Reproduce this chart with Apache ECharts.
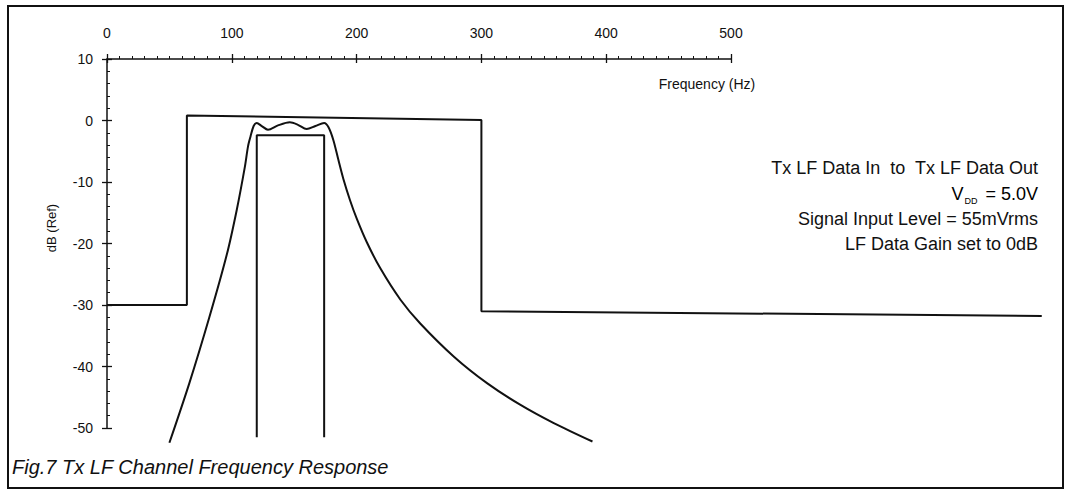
<!DOCTYPE html>
<html>
<head>
<meta charset="utf-8">
<script src="https://cdn.jsdelivr.net/npm/echarts@6/dist/echarts.min.js"></script>
<style>
html, body { margin: 0; padding: 0; background: #ffffff; }
#chart { width: 1069px; height: 491px; }
</style>
</head>
<body>
<div id="chart"></div>
<script>
// tick labels
var xTicks = [0, 100, 200, 300, 400, 500];
var yTicks = [10, 0, -10, -20, -30, -40, -50];

// upper mask (Hz / dB), its right tail runs past the 500 Hz end of the axis
var maskFreq = [0, 64, 64, 300, 300, 749];
var maskDb = [-30, -30, 0.8, 0.1, -31, -31.8];

// lower mask
var innerFreq = [120, 120, 174, 174];
var innerDb = [-51.5, -2.4, -2.4, -51.5];

// measured response
var respFreq = [50, 66, 82, 96, 104, 110.5, 113, 115, 117.5, 120, 124, 129, 137, 146.5, 153, 160, 167, 174, 177.5, 181.4, 185.4, 189.4, 194.8, 200.2, 208.2, 218.9, 235, 251, 278, 304.5, 331, 358, 389];
var respDb = [-52.4, -42.7, -32.0, -21.8, -14.5, -7.5, -4.2, -2.6, -0.9, -0.4, -0.9, -1.5, -0.8, -0.3, -0.7, -1.4, -0.9, -0.4, -1.1, -3.2, -6.4, -9.5, -13.0, -16.0, -19.8, -24.0, -29.1, -33.0, -38.4, -42.7, -46.2, -49.2, -52.2];

function pairs(xs, ys) {
  var out = [];
  for (var i = 0; i < xs.length; i++) out.push([xs[i], ys[i]]);
  return out;
}

var myChart = echarts.init(document.getElementById("chart"), null, { renderer: "svg" });
var ink = "#111111";
var font = "'Liberation Sans', Arial, Helvetica, sans-serif";

// plot area: 0..500 Hz over 624 px, 10..-50 dB over 369 px
var plotLeft = 107, plotTop = 59, plotW = 624, plotH = 369;
var dataMaxHz = 750; // hidden scale used by the series so the mask tail is not cut at 500

var option = {
  backgroundColor: "#ffffff",
  animation: false,
  grid: [
    { left: plotLeft, top: plotTop, width: plotW, height: plotH },
    { left: plotLeft, top: plotTop, width: plotW * dataMaxHz / 500, height: plotH }
  ],
  xAxis: [
    {
      type: "value",
      gridIndex: 0,
      position: "top",
      min: 0,
      max: 500,
      interval: 100,
      axisLine: { onZero: false, lineStyle: { color: ink, width: 1.5 } },
      axisTick: { inside: false, length: 5, lineStyle: { color: ink, width: 1.3 } },
      minorTick: { show: true, splitNumber: 10, length: 3, lineStyle: { color: ink, width: 1 } },
      axisLabel: {
        margin: 19,
        color: ink,
        fontSize: 14,
        fontFamily: font,
        customValues: xTicks
      },
      splitLine: { show: false }
    },
    {
      // lower half of the crossing major ticks
      type: "value",
      gridIndex: 0,
      position: "top",
      min: 0,
      max: 500,
      interval: 100,
      axisLine: { show: false, onZero: false },
      axisTick: { inside: true, length: 4, lineStyle: { color: ink, width: 1.3 } },
      axisLabel: { show: false },
      splitLine: { show: false }
    },
    {
      type: "value",
      gridIndex: 1,
      min: 0,
      max: dataMaxHz,
      show: false
    }
  ],
  yAxis: [
    {
      type: "value",
      gridIndex: 0,
      min: -50,
      max: 10,
      interval: 10,
      axisLine: { show: true, onZero: false, lineStyle: { color: ink, width: 1.5 } },
      axisTick: { inside: true, length: 5, lineStyle: { color: ink, width: 1.3 } },
      minorTick: { show: true, splitNumber: 5, length: 3, lineStyle: { color: ink, width: 1 } },
      axisLabel: {
        margin: 14,
        color: ink,
        fontSize: 14,
        fontFamily: font,
        customValues: yTicks
      },
      splitLine: { show: false }
    },
    {
      type: "value",
      gridIndex: 0,
      position: "left",
      min: -50,
      max: 10,
      interval: 10,
      axisLine: { show: false, onZero: false },
      axisTick: { inside: false, length: 5, lineStyle: { color: ink, width: 1.3 } },
      axisLabel: { show: false },
      splitLine: { show: false }
    },
    {
      type: "value",
      gridIndex: 1,
      min: -50,
      max: 10,
      show: false
    }
  ],
  series: [
    {
      name: "mask",
      type: "line",
      xAxisIndex: 2,
      yAxisIndex: 2,
      data: pairs(maskFreq, maskDb),
      symbol: "none",
      clip: false,
      lineStyle: { color: ink, width: 2 }
    },
    {
      name: "inner",
      type: "line",
      xAxisIndex: 2,
      yAxisIndex: 2,
      data: pairs(innerFreq, innerDb),
      symbol: "none",
      clip: false,
      lineStyle: { color: ink, width: 2 }
    },
    {
      name: "response",
      type: "line",
      xAxisIndex: 2,
      yAxisIndex: 2,
      data: pairs(respFreq, respDb),
      symbol: "none",
      smooth: 0.3,
      clip: false,
      lineStyle: { color: ink, width: 2 }
    }
  ],
  graphic: [
    {
      type: "rect",
      shape: { x: 8, y: 6, width: 1055, height: 482 },
      style: { fill: null, stroke: ink, lineWidth: 2 },
      silent: true
    },
    {
      type: "text",
      x: 707, y: 84,
      style: { text: "Frequency (Hz)", font: "14px " + font, fill: ink, align: "center", verticalAlign: "middle" }
    },
    {
      type: "text",
      x: 51, y: 228,
      rotation: Math.PI / 2,
      style: { text: "dB (Ref)", font: "13px " + font, fill: ink, align: "center", verticalAlign: "middle" }
    },
    {
      type: "text",
      x: 1038, y: 168,
      style: { text: "Tx LF Data In  to  Tx LF Data Out", font: "18px " + font, fill: ink, align: "right", verticalAlign: "middle" }
    },
    {
      type: "text",
      x: 1038, y: 194,
      style: {
        text: "{v|V}{s|DD}{v| = 5.0V}",
        align: "right",
        verticalAlign: "middle",
        rich: {
          v: { fontSize: 18, fontFamily: font, color: ink, lineHeight: 22, verticalAlign: "middle" },
          s: { fontSize: 9, fontFamily: font, color: ink, lineHeight: 22, verticalAlign: "bottom", padding: [0, 3, 0, 1] }
        }
      }
    },
    {
      type: "text",
      x: 1038, y: 219,
      style: { text: "Signal Input Level = 55mVrms", font: "18px " + font, fill: ink, align: "right", verticalAlign: "middle" }
    },
    {
      type: "text",
      x: 1038, y: 244,
      style: { text: "LF Data Gain set to 0dB", font: "18px " + font, fill: ink, align: "right", verticalAlign: "middle" }
    },
    {
      type: "text",
      x: 12, y: 467,
      style: { text: "Fig.7 Tx LF Channel Frequency Response", font: "italic 20px " + font, fill: ink, align: "left", verticalAlign: "middle" }
    }
  ]
};
myChart.setOption(option);
</script>
</body>
</html>
